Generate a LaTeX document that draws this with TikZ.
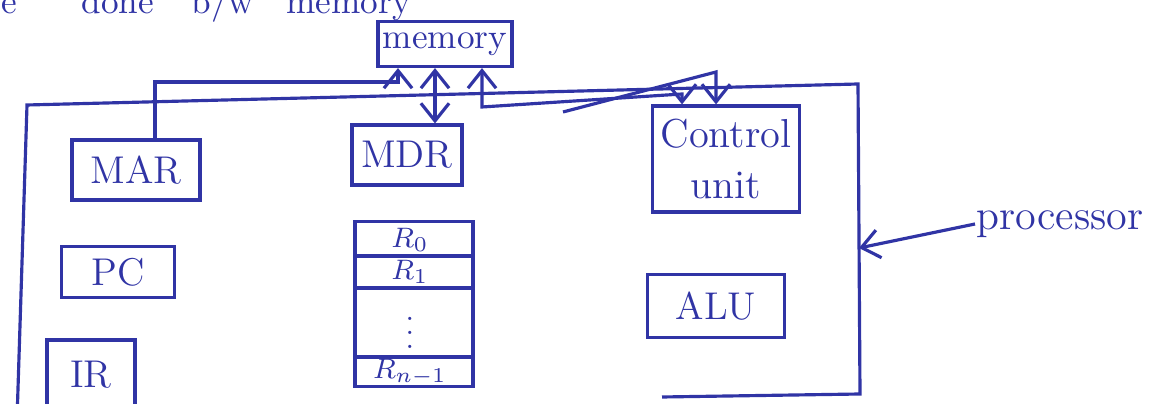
\documentclass[tikz,border=0pt]{standalone}
\usepackage{amsmath}
\usepackage{tikz}
\usetikzlibrary{arrows.meta, calc, positioning}
\definecolor{ink}{RGB}{48,52,165}
\tikzset{
  unit/.style={draw=ink, text=ink, line width=0.9pt, inner sep=0pt,
    font=\fontsize{11}{13}\selectfont},
  word/.style={text=ink, inner sep=0pt, font=\fontsize{10}{12}\selectfont},
  reg/.style={text=ink, inner sep=0pt, font=\fontsize{8.5}{10}\selectfont}
}

\begin{document}
\begin{tikzpicture}[x=0.01cm, y=-0.01cm, >={Straight Barb[length=5pt,width=8pt]},
    line width=0.9pt, ink]
    \clip (0,0) rectangle (1170,404);
    \fill[white] (0,0) rectangle (1170,404);
    % 1. Chữ bị cắt ở mép trên
    \node[word, anchor=base west] (w1) at (0,14) {e};
    \node[word, anchor=base west] (w2) at (80,14) {done};
    \node[word, anchor=base west] (w3) at (190,14) {b/w};
    \node[word, anchor=base west] (w4) at (285,14) {memory};

    % 2. Các khối
    \node[unit, minimum width=1.34cm, minimum height=0.45cm,
        font=\fontsize{10}{12}\selectfont] (mem) at (445,44) {memory};
    \node[unit, minimum width=1.28cm, minimum height=0.60cm] (mar) at (136,170) {MAR};
    \node[unit, minimum width=1.10cm, minimum height=0.60cm] (mdr) at (407,155) {MDR};
    \node[unit, minimum width=1.13cm, minimum height=0.51cm] (pc) at (118,272) {PC};
    \node[unit, minimum width=0.88cm, minimum height=0.70cm] (ir) at (91,375) {IR};
    \node[unit, minimum width=1.47cm, minimum height=1.06cm, align=center,
        font=\fontsize{11.5}{14.5}\selectfont] (cu) at (726,159) {Control\\unit};
    \node[unit, minimum width=1.37cm, minimum height=0.63cm] (alu) at (716,306) {ALU};

    % 3. Tệp thanh ghi
    \node[unit, minimum width=1.18cm, minimum height=1.65cm] (regs) at (414,304) {};
    \node[reg] (r0) at (410,240) {$R_0$};
    \node[reg] (r1) at (410,272) {$R_1$};
    \node[reg] (rdots) at (410,322) {$\vdots$};
    \node[reg] (rn) at (410,372) {$R_{n-1}$};
    \foreach \yy in {256,288,357} {
        \draw (regs.west |- 0,\yy) -- (regs.east |- 0,\yy);
    }

    % 4. Khung bộ xử lý
    \draw (17,420) -- (27,105) -- (858,84) -- (860,394) -- (662,397);
    \node[word, anchor=west, font=\fontsize{12}{14}\selectfont] (lbl) at (975,224) {processor};
    \coordinate (procR) at (859,248);
    \draw[->] (lbl.west) -- (procR);

    % 5. Đường nối với bộ nhớ
    \coordinate (marbus) at (155,82);
    \coordinate (memin) at (398,82);
    \draw[->] (mar.north -| marbus) -- (marbus) -- (memin) -- (memin |- mem.south);

    \coordinate (mdrbus) at (435,0);
    \draw[<->] (mem.south -| mdrbus) -- (mdr.north -| mdrbus);

    \coordinate (cubus) at (482,107);
    \coordinate (cuin) at (682,94);
    \draw[<->] (cubus |- mem.south) -- (cubus) -- (cuin) -- (cuin |- cu.north);

    \coordinate (scr) at (563,112);
    \coordinate (scrtop) at (716,72);
    \draw[->] (scr) -- (scrtop) -- (scrtop |- cu.north);
\end{tikzpicture}
\end{document}
